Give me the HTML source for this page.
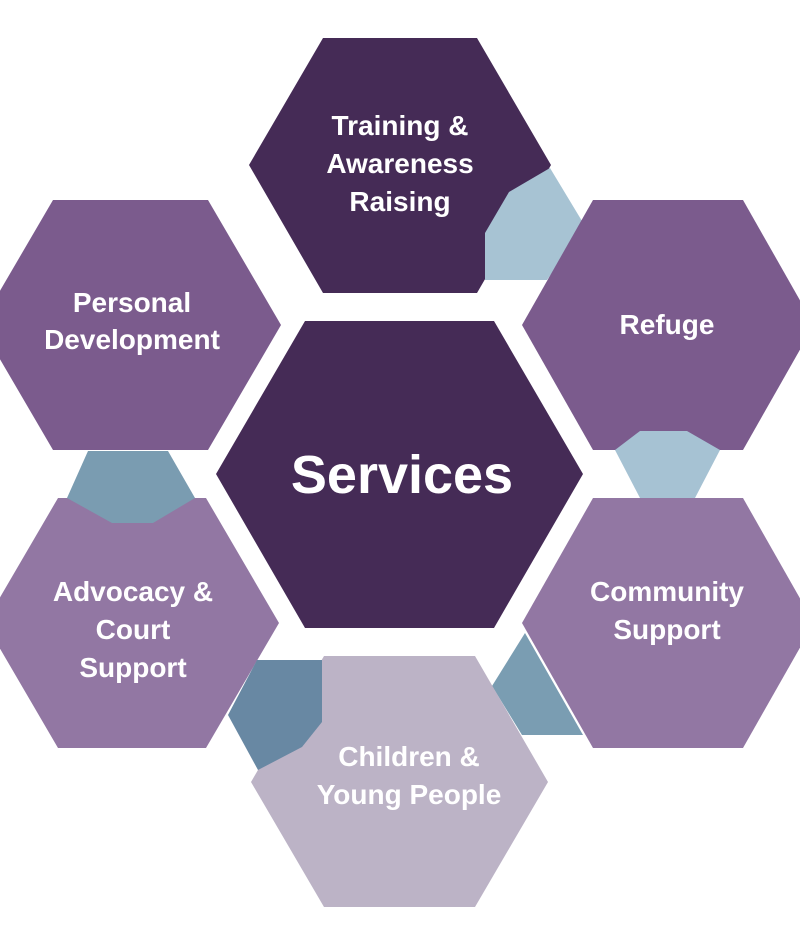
<!DOCTYPE html>
<html><head><style>
html,body{margin:0;padding:0;background:#fff;}
svg{display:block;}
text{font-family:"Liberation Sans",sans-serif;font-weight:bold;fill:#fff;text-anchor:middle;}
</style></head><body>
<svg width="800" height="927" viewBox="0 0 800 927" xmlns="http://www.w3.org/2000/svg">
<polygon points="323,38 477,38 551,165 477,293 323,293 249,165" fill="#452b56"/>
<polygon points="550,168 585,226 547,280 485,280 485,233 509,192" fill="#a7c3d3"/>
<polygon points="53,200 208,200 281,325 208,450 53,450 -20,325" fill="#7b5b8d"/>
<polygon points="58,498 206,498 279,623 206,748 58,748 -15,623" fill="#9277a3"/>
<polygon points="88,451 168,451 195,498 153,523 112,523 67,498" fill="#7a9cb1"/>
<polygon points="525,633 583,735 522,735 492,686" fill="#7a9db2"/>
<polygon points="324,656 475,656 548,782 475,907 324,907 251,782" fill="#bcb3c6"/>
<polygon points="257,660 322,660 322,722 302,747 258,770 228,715" fill="#6888a3"/>
<polygon points="593,200 743,200 814,325 743,450 593,450 522,325" fill="#7b5b8d"/>
<polygon points="615,450 640,431 687,431 720,450 695,498 640,498" fill="#a6c2d3"/>
<polygon points="593,498 743,498 814,623 743,748 593,748 522,623" fill="#9277a3"/>
<polygon points="305,321 494,321 583,474 494,628 305,628 216,474" fill="#452b56"/>

<g font-size="28">
<text x="400" y="135">Training &amp;</text>
<text x="400" y="173">Awareness</text>
<text x="400" y="211">Raising</text>
<text x="132" y="312">Personal</text>
<text x="132" y="349">Development</text>
<text x="667" y="334">Refuge</text>
<text x="133" y="601">Advocacy &amp;</text>
<text x="133" y="639">Court</text>
<text x="133" y="677">Support</text>
<text x="667" y="601">Community</text>
<text x="667" y="639">Support</text>
<text x="409" y="766">Children &amp;</text>
<text x="409" y="804">Young People</text>
</g>
<text x="402" y="493" font-size="54">Services</text>
</svg>
</body></html>
